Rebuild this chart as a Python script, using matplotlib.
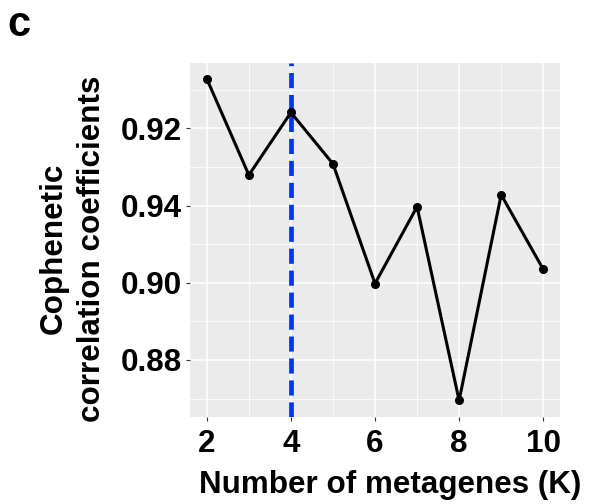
import matplotlib
matplotlib.use("Agg")
import matplotlib.pyplot as plt
from matplotlib.ticker import MultipleLocator

# cophenetic correlation per rank K
ranks = [2, 3, 4, 5, 6, 7, 8, 9, 10]
coph = [0.9528, 0.9279, 0.9441, 0.9308, 0.8998, 0.9197, 0.8695, 0.9228, 0.9035]
best_rank = 4

x_ticks = [2, 4, 6, 8, 10]
y_ticks = [0.88, 0.90, 0.92, 0.94]
y_tick_labels = ["0.88", "0.90", "0.94", "0.92"]

plt.rcParams["font.family"] = ["Liberation Sans", "DejaVu Sans"]
plt.rcParams["font.weight"] = "bold"

fs = 22.6

fig = plt.figure(figsize=(5.89, 5.04), dpi=100)
ax = fig.add_axes([0.3226, 0.1732, 0.6282, 0.7024])

# ggplot-like panel
ax.set_facecolor("#EBEBEB")
for s in ax.spines.values():
    s.set_visible(False)
ax.xaxis.set_minor_locator(MultipleLocator(1))
ax.yaxis.set_minor_locator(MultipleLocator(0.01))
ax.grid(which="major", color="white", linewidth=1.1)
ax.grid(which="minor", color="white", linewidth=0.55)
ax.set_axisbelow(True)

ax.axvline(best_rank, color="#0033FF", linewidth=3.4, dashes=(3.2, 1.45), zorder=3)
ax.plot(ranks, coph, color="black", linewidth=2.2, marker="o", markersize=5.5, zorder=4)

ax.set_xlim(1.6, 10.4)
ax.set_ylim(0.8653, 0.957)
ax.set_xticks(x_ticks)
ax.set_yticks(y_ticks)
ax.set_yticklabels(y_tick_labels)
ax.tick_params(which="major", length=3, width=0.8, color="#333333", labelsize=fs)
ax.tick_params(axis="x", pad=6)
ax.tick_params(axis="y", pad=3)
ax.tick_params(which="minor", length=0)
for lab in ax.get_xticklabels() + ax.get_yticklabels():
    lab.set_fontweight("bold")

ax.set_xlabel("Number of metagenes (K)", fontsize=fs, fontweight="bold")
ax.xaxis.set_label_coords(0.54, -0.150)
ax.set_ylabel("Cophenetic\ncorrelation coefficients", fontsize=fs, fontweight="bold",
              linespacing=1.35)
ax.yaxis.set_label_coords(-0.225, 0.475)

fig.text(0.012, 0.99, "c", fontsize=30, fontweight="bold", va="top", ha="left")

fig.savefig("out.png", dpi=100)
